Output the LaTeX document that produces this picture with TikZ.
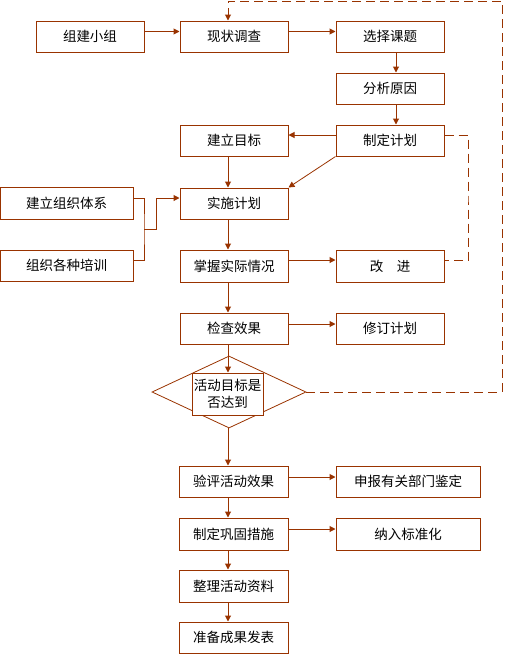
\documentclass[tikz,border=0pt]{standalone}
\usepackage{fontspec}
\setmainfont{Noto Sans CJK SC}
\usetikzlibrary{arrows.meta,shapes.geometric}
\definecolor{brn}{RGB}{153,51,0}
\begin{document}
\begin{tikzpicture}[x=1pt,y=-1pt,
  box/.style={draw=brn,line width=1pt,minimum width=108pt,minimum height=31pt,inner sep=0pt,font=\fontsize{13.5pt}{16pt}\selectfont,text=black},
  con/.style={draw=brn,line width=1pt},
  arr/.style={con,-{Triangle[length=6pt,width=6pt]}},
  dsh/.style={con,dash pattern=on 9pt off 5pt}]
\useasboundingbox (0,0) rectangle (505,654);
\node[box] (a) at (90,36.5) {组建小组};
\node[box] (b) at (234,36.5) {现状调查};
\node[box] (c) at (390,36.5) {选择课题};
\node[box] (d) at (390,88.5) {分析原因};
\node[box] (e) at (390,140.5) {制定计划};
\node[box] (f) at (234,140.5) {建立目标};
\node[box] (g) at (234,203.5) {实施计划};
\node[box,minimum width=132.5pt,minimum height=32pt] (h) at (66.75,203) {建立组织体系};
\node[box,minimum width=132.5pt] (i) at (66.75,265.5) {组织各种培训};
\node[box,minimum height=32pt] (j) at (234,266) {掌握实际情况};
\node[box,minimum height=32pt] (k) at (390,266) {改\hspace{1em}进};
\node[box] (l) at (234,328.5) {检查效果};
\node[box] (m) at (390,328.5) {修订计划};
\node[diamond,draw=brn,line width=0.8pt,minimum width=154pt,minimum height=72pt,inner sep=0pt] (dia) at (229,392) {};
\node[box,fill=white,minimum width=71pt,minimum height=42pt,align=center,font=\fontsize{13.5pt}{17pt}\selectfont] (q) at (227.5,394) {活动目标是\\否达到};
\node[box,minimum width=109pt] (n) at (233.5,481.5) {验评活动效果};
\node[box,minimum width=144pt] (o) at (408,481.5) {申报有关部门鉴定};
\node[box,minimum width=109pt,minimum height=32pt] (p) at (233.5,534) {制定巩固措施};
\node[box,minimum width=144pt,minimum height=32pt] (q2) at (408,534) {纳入标准化};
\node[box,minimum width=109pt,minimum height=32pt] (r) at (233.5,586) {整理活动资料};
\node[box,minimum width=109pt] (s) at (233.5,637.5) {准备成果发表};
\coordinate (br) at (144,229);
\coordinate (br2) at (156,229);
\coordinate (dk) at (468,200);
\coordinate (tr) at (502,1);
% horizontal arrows
\draw[arr] ([yshift=5pt]a.east) -- ([yshift=5pt]b.west);
\draw[arr] ([yshift=5pt]b.east) -- ([yshift=5pt]c.west);
\draw[arr] ([yshift=5.5pt]e.west) -- ([yshift=5.5pt]f.east);
\draw[arr] ([yshift=6pt]j.east) -- ([yshift=6pt]k.west);
\draw[arr] ([yshift=4.5pt]l.east) -- ([yshift=4.5pt]m.west);
\draw[arr] ([yshift=4.5pt]n.east) -- ([yshift=4.5pt]o.west);
\draw[arr] ([yshift=5pt]p.east) -- ([yshift=5pt]q2.west);
% vertical arrows
\draw[arr] ([xshift=6pt]c.south) -- ([xshift=6pt]d.north);
\draw[arr] ([xshift=6pt]d.south) -- ([xshift=6pt]e.north);
\draw[arr] ([xshift=-6pt]f.south) -- ([xshift=-6pt]g.north);
\draw[arr] ([xshift=-6pt]g.south) -- ([xshift=-6pt]j.north);
\draw[arr] ([xshift=-6pt]j.south) -- ([xshift=-6pt]l.north);
\draw[arr] ([xshift=-6pt]l.south) -- ([xshift=-6pt]l.south |- q.north);
\draw[arr] ([xshift=-1pt]dia.south) -- ([xshift=-1pt]dia.south |- n.north);
\draw[arr] ([xshift=-5.5pt]n.south) -- ([xshift=-5.5pt]p.north);
\draw[arr] ([xshift=-5.5pt]p.south) -- ([xshift=-5.5pt]r.north);
\draw[arr] ([xshift=-5.5pt]r.south) -- ([xshift=-5.5pt]s.north);
% diagonal
\draw[arr,line width=0.8pt] (e.south west) -- (g.north east);
% bracket
\draw[con] ([yshift=5pt]h.east) -| (br) |- ([yshift=5.5pt]i.east);
\draw[arr] (br) -- (br2) |- ([yshift=5.5pt]g.west);
% dashed
\draw[dsh] ([yshift=5.5pt]e.east) -| (dk) |- ([yshift=6pt]k.east);
\draw[dsh,-{Triangle[length=6pt,width=6pt]}] (dia.east) -| (tr) -| ([xshift=-6pt]b.north);
\end{tikzpicture}
\end{document}
